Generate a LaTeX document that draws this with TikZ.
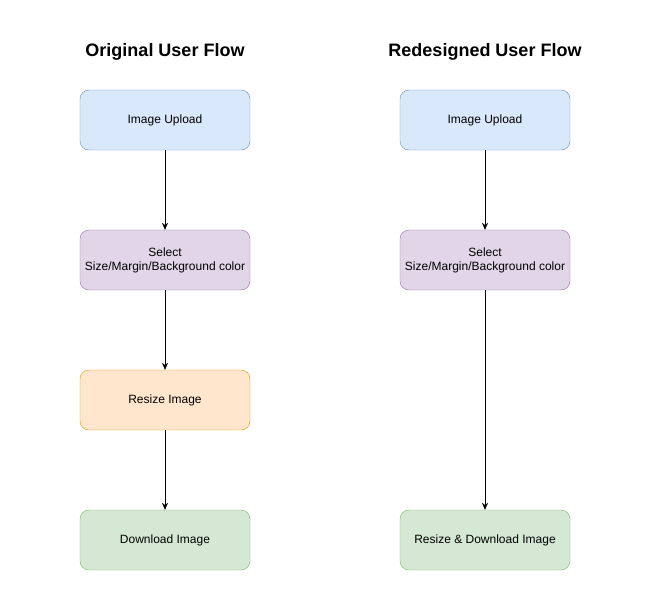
\documentclass[tikz,border=0pt]{standalone}
\usepackage{fontspec}
\setmainfont{Liberation Sans}
\usetikzlibrary{arrows.meta}
\tikzset{>={Stealth[length=7pt,width=6pt]}}
\definecolor{bluefill}{HTML}{DAE8FC}
\definecolor{blueline}{HTML}{6C8EBF}
\definecolor{purplefill}{HTML}{E1D5E7}
\definecolor{purpleline}{HTML}{9673A6}
\definecolor{orangefill}{HTML}{FFE6CC}
\definecolor{orangeline}{HTML}{D79B00}
\definecolor{greenfill}{HTML}{D5E8D4}
\definecolor{greenline}{HTML}{82B366}
\tikzset{
    flowbox/.style={draw, rounded corners=9pt, minimum width=170pt, minimum height=60pt,
        align=center, font=\fontsize{12}{14}\selectfont, inner sep=2pt},
    flowtitle/.style={font=\fontsize{18}{21}\selectfont\bfseries},
}

\begin{document}
\begin{tikzpicture}[x=1pt,y=-1pt]

    \useasboundingbox (0,0) rectangle (664,611);

    % original flow
    \node[flowtitle] (origtitle) at (165,52) {Original User Flow};
    \node[flowbox, fill=bluefill, draw=blueline] (upload) at (165,120) {Image Upload};
    \node[flowbox, fill=purplefill, draw=purpleline] (select) at (165,260) {Select\\Size/Margin/Background color};
    \node[flowbox, fill=orangefill, draw=orangeline] (resize) at (165,400) {Resize Image};
    \node[flowbox, fill=greenfill, draw=greenline] (download) at (165,540) {Download Image};

    \draw[->] (upload) -- (select);
    \draw[->] (select) -- (resize);
    \draw[->] (resize) -- (download);

    % redesigned flow
    \node[flowtitle] (newtitle) at (485,52) {Redesigned User Flow};
    \node[flowbox, fill=bluefill, draw=blueline] (newupload) at (485,120) {Image Upload};
    \node[flowbox, fill=purplefill, draw=purpleline] (newselect) at (485,260) {Select\\Size/Margin/Background color};
    \node[flowbox, fill=greenfill, draw=greenline] (newdownload) at (485,540) {Resize \& Download Image};

    \draw[->] (newupload) -- (newselect);
    \draw[->] (newselect) -- (newdownload);

\end{tikzpicture}
\end{document}
